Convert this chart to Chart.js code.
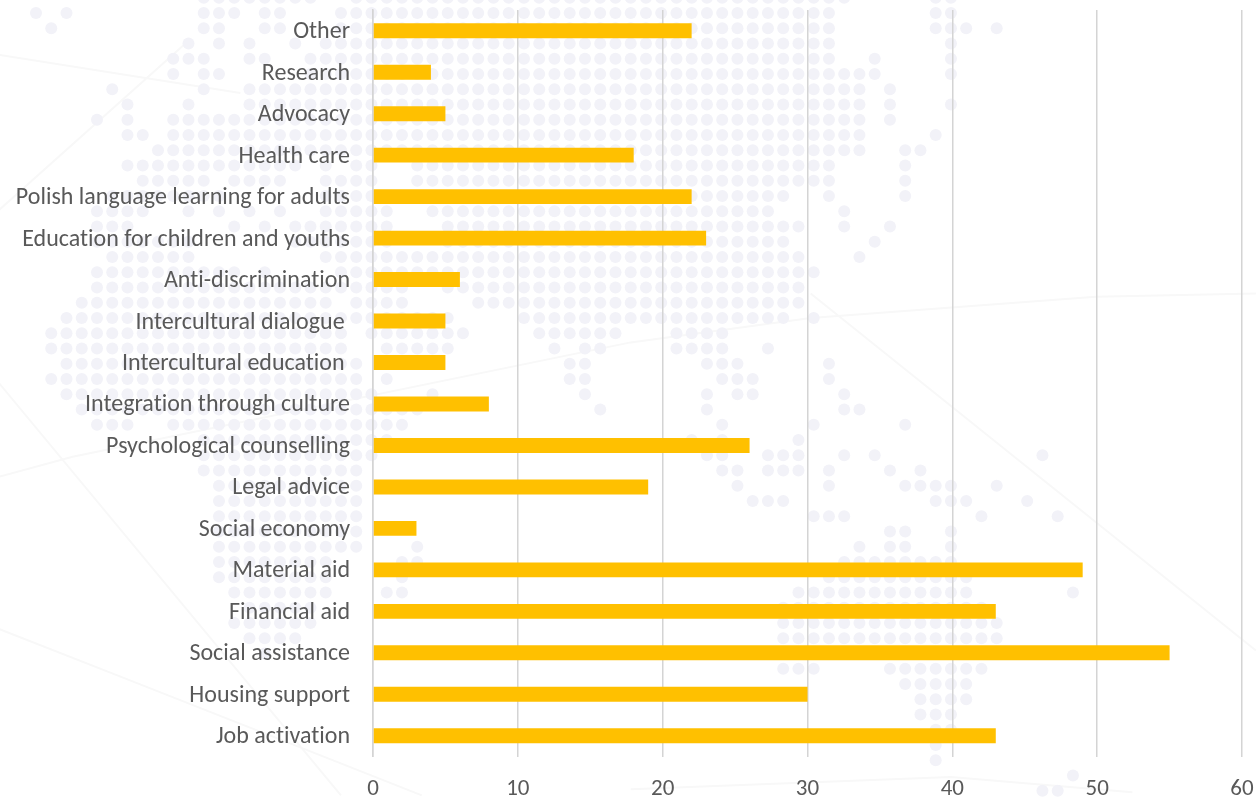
<!DOCTYPE html>
<html>
<head>
<meta charset="utf-8">
<script src="https://cdn.jsdelivr.net/npm/chart.js@4"></script>
<style>
    html, body { margin: 0; padding: 0; background: #fff; }
    #wrap { position: absolute; left: 0; top: 0; width: 1257px; height: 799px; }
    canvas { position: absolute; left: 0; top: 0; }
</style>
</head>
<body>
<div id="wrap">
    <canvas id="mapChart" width="1257" height="799"></canvas>
    <canvas id="myChart" width="1257" height="799"></canvas>
</div>
<script>
let categories = ['Other', 'Research', 'Advocacy', 'Health care', 'Polish language learning for adults',
    'Education for children and youths', 'Anti-discrimination', 'Intercultural dialogue ', 'Intercultural education ',
    'Integration through culture', 'Psychological counselling', 'Legal advice', 'Social economy', 'Material aid',
    'Financial aid', 'Social assistance', 'Housing support', 'Job activation'];
let values = [22, 4, 5, 18, 22, 23, 6, 5, 5, 8, 26, 19, 3, 49, 43, 55, 30, 43];

// background dot map: one line per grid row (first row is -1), [from, to] column runs
let mapRows = [
    [[11,18],[21,53],[59,60]],
    [[0,0],[2,2],[11,13],[15,16],[20,52],[59,60]],
    [[1,1],[11,12],[15,16],[20,52],[59,61],[63,63]],
    [[10,10],[12,12],[14,14],[17,17],[19,52],[60,60]],
    [[9,11],[14,15],[18,52],[55,55],[60,60]],
    [[9,9],[11,12],[18,55],[60,60]],
    [[5,5],[11,11],[14,54],[56,56]],
    [[6,6],[10,10],[14,54],[56,56],[60,60]],
    [[4,4],[6,6],[9,54],[56,56]],
    [[6,7],[9,54],[59,59]],
    [[8,54],[57,58]],
    [[6,17],[19,19],[21,22],[25,52],[57,57]],
    [[7,11],[13,16],[19,22],[25,52],[57,57]],
    [[5,12],[19,22],[25,49],[52,52],[57,57]],
    [[4,7],[10,10],[12,12],[14,14],[16,16],[19,23],[26,48],[53,53]],
    [[4,6],[13,13],[15,15],[17,23],[27,50],[53,53],[56,56]],
    [[4,10],[17,23],[27,49],[55,55]],
    [[5,10],[19,50],[54,54]],
    [[4,13],[15,15],[20,51]],
    [[4,24],[27,50]],
    [[3,19],[21,24],[29,50]],
    [[2,27],[32,49],[51,51]],
    [[1,20],[22,28],[33,38],[42,45]],
    [[1,20],[23,27],[34,34],[36,37],[42,45],[48,48]],
    [[2,21],[35,36],[44,46],[52,52]],
    [[1,21],[23,23],[35,36],[45,47],[52,52]],
    [[2,22],[26,26],[36,36],[44,44],[46,47],[53,53]],
    [[3,25],[37,37],[44,44],[53,54]],
    [[4,6],[9,24],[45,45],[51,51],[57,57]],
    [[11,23],[43,43],[45,45],[50,50]],
    [[11,22],[44,45],[48,50],[53,53],[55,55],[66,66]],
    [[11,21],[45,46],[48,50],[52,52],[56,56],[58,58]],
    [[12,21],[46,46],[52,52],[57,60],[63,63]],
    [[12,21],[47,49],[59,61],[65,65]],
    [[12,21],[51,53],[62,62],[67,67]],
    [[12,21],[56,57],[60,60]],
    [[12,21],[25,25],[54,54],[56,57],[60,60]],
    [[12,19],[24,25],[53,60]],
    [[12,19],[24,24],[52,61]],
    [[13,19],[23,24],[50,61],[68,68]],
    [[14,18],[49,62]],
    [[13,18],[49,63]],
    [[14,17],[49,63]],
    [[15,15]],
    [[49,51],[56,62]],
    [[57,61]],
    [[58,61]],
    [[58,60]],
    [[59,60]],
    [[59,59]],
    [[59,59]],
    [[68,68]],
    [[66,67]]
];

// faint background lines, in the same grid units as the dots
let mapLines = [
    [[-2.4, 2.75], [13.4, 5.25]],
    [[-2.4, 12.9], [9.8, 2]],
    [[-2.4, 30.4], [2.4, 29.1], [39, 21.6], [50.8, 20], [69.5, 18.6], [80, 18.4]],
    [[50.8, 18.4], [80, 41.8]],
    [[-2.4, 40.4], [5.5, 43.5], [18.7, 48.7], [25.3, 51.3]],
    [[-2.4, 24.3], [20, 51.3]],
    [[39, 50.9], [60, 50.1], [71.9, 51.1]]
];

function mapDots() {
    let dots = [];
    for (let i = 0; i < mapRows.length; i++) {
        for (let run of mapRows[i]) {
            for (let col = run[0]; col <= run[1]; col++) {
                dots.push({ x: col, y: i - 1 });
            }
        }
    }
    return dots;
}

let mapDatasets = [{
    data: mapDots(),
    pointRadius: 6,
    pointBorderWidth: 0,
    pointBackgroundColor: '#f2f2f8',
}];

for (let line of mapLines) {
    mapDatasets.push({
        data: line.map(p => ({ x: p[0], y: p[1] })),
        showLine: true,
        pointRadius: 0,
        borderColor: '#f8f8f8',
        borderWidth: 2,
    });
}

new Chart(document.getElementById('mapChart'), {
    type: 'scatter',
    data: { datasets: mapDatasets },
    options: {
        responsive: false,
        animation: false,
        layout: { autoPadding: false },
        plugins: { legend: { display: false }, tooltip: { enabled: false } },
        scales: {
            x: { display: false, min: -2.36, max: 80.07 },
            y: { display: false, reverse: true, min: -0.85, max: 51.54 },
        }
    }
});

// the reference has no ligatures in its labels
const noLigatures = {
    id: 'noLigatures',
    beforeDraw: function (chart) { chart.ctx.textRendering = 'optimizeSpeed'; }
};

const config = {
    type: 'bar',
    data: {
        labels: categories,
        datasets: [{
            data: values,
            backgroundColor: '#ffc000',
            categoryPercentage: 1,
            barPercentage: 0.36,
        }]
    },
    plugins: [noLigatures],
    options: {
        indexAxis: 'y',
        responsive: false,
        animation: false,
        layout: { padding: { left: 0, right: 15, top: 10, bottom: 0 } },
        plugins: {
            legend: { display: false },
            title: { display: false },
            tooltip: { enabled: false },
        },
        scales: {
            x: {
                min: 0,
                max: 60,
                afterFit: function (scale) {
                    scale.height = 42.5;
                    scale.paddingLeft = 0;
                    scale.paddingRight = 0;
                },
                ticks: { stepSize: 10, color: '#595959', font: { family: 'Carlito, "Open Sans", "Noto Sans"', size: 23 }, padding: 19 },
                grid: { color: '#d4d4d4', lineWidth: 1.5, drawTicks: false },
                border: { display: false },
            },
            y: {
                afterFit: function (scale) {
                    scale.width = 373;
                    scale.paddingTop = 0;
                    scale.paddingBottom = 0;
                },
                ticks: { color: '#595959', font: { family: 'Carlito, "Open Sans", "Noto Sans"', size: 24 }, padding: 15, autoSkip: false, labelOffset: 1.5 },
                grid: { display: false },
                border: { color: '#d4d4d4', width: 1.5 },
            },
        }
    }
};

new Chart(document.getElementById('myChart'), config);
</script>
</body>
</html>
